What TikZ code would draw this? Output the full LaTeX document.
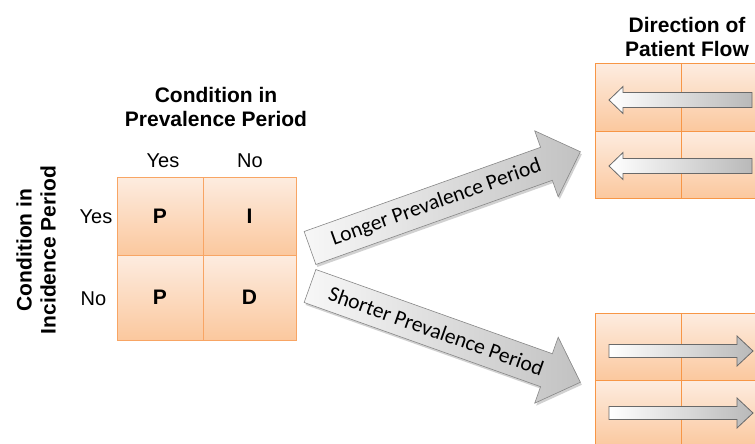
\documentclass[tikz,border=0pt]{standalone}
\usepackage{fontspec}
\setmainfont{Liberation Sans}
\newfontfamily\calfont{Carlito}
\usetikzlibrary{calc}
\definecolor{celltop}{RGB}{253,236,224}
\definecolor{cellbot}{RGB}{251,200,158}
\definecolor{cellline}{RGB}{248,165,100}
\definecolor{flowline}{RGB}{247,150,70}
\definecolor{arrowline}{RGB}{105,105,105}
\newcommand{\hdrfont}{\bfseries\fontsize{21}{24}\selectfont}
\newcommand{\ansfont}{\fontsize{20}{24}\selectfont}

\tikzset{
    cell/.style={draw=cellline, line width=1pt, top color=celltop, bottom color=cellbot,
        inner sep=0pt, outer sep=0pt, font=\hdrfont},
    flowcell/.style={cell, draw=flowline, minimum width=86pt, minimum height=67pt},
    hdr/.style={align=center, inner sep=0pt, font=\hdrfont},
    ans/.style={anchor=base, inner sep=0pt, font=\ansfont},
    bigarrow/.style={draw=arrowline!80, line width=0.6pt, left color=gray!6, right color=gray!48,
        preaction={fill=black, opacity=0.18, transform canvas={xshift=1.5pt, yshift=-2.5pt}}},
    smallarrow/.style={draw=arrowline, line width=0.8pt, left color=white, right color=gray!55}
}

\begin{document}
\begin{tikzpicture}[x=1pt, y=-1pt]
    \useasboundingbox (0,0) rectangle (755,444);

    % Headers
    \node[hdr] (colhead) at (216,106.5) {Condition in\\Prevalence Period};
    \node[hdr, rotate=90] (rowhead) at (36,250) {Condition in\\Incidence Period};
    \node[hdr] (flowhead) at (687,36.5) {Direction of\\Patient Flow};

    % Condition matrix
    \node[cell, minimum width=86pt, minimum height=78pt] (pyes) at (160,216) {P};
    \node[cell, minimum width=93pt, minimum height=78pt] (iyes) at (249.5,216) {I};
    \node[cell, minimum width=86pt, minimum height=85pt] (pno) at (160,297.5) {P};
    \node[cell, minimum width=93pt, minimum height=85pt] (dno) at (249.5,297.5) {D};

    \node[ans] (colyes) at (163,167) {Yes};
    \node[ans] (colno) at (250,167) {No};
    \node[ans] (rowyes) at (96,223) {Yes};
    \node[ans] (rowno) at (93.5,305) {No};

    % Flow grids
    \node[flowcell] (longa) at (638,97.5) {};
    \node[flowcell] (longb) at (724,97.5) {};
    \node[flowcell] (longc) at (638,164.5) {};
    \node[flowcell] (longd) at (724,164.5) {};
    \node[flowcell] (shorta) at (638,346.5) {};
    \node[flowcell] (shortb) at (724,346.5) {};
    \node[flowcell] (shortc) at (638,413.5) {};
    \node[flowcell] (shortd) at (724,413.5) {};

    % Direction arrows
    \foreach \y in {100,166} {
        \draw[smallarrow] (752,\y-7.5) -- (623,\y-7.5) -- (623,\y-13.5) -- (609,\y)
            -- (623,\y+13.5) -- (623,\y+7.5) -- (752,\y+7.5) -- cycle;
    }
    \foreach \y in {351,413} {
        \draw[smallarrow] (609,\y-6.5) -- (737,\y-6.5) -- (737,\y-15) -- (753,\y)
            -- (737,\y+15) -- (737,\y+6.5) -- (609,\y+6.5) -- cycle;
    }

    % Prevalence arrows
    \begin{scope}[shift={(310,248)}, rotate=19.6]
        \draw[bigarrow] (0,-17.5) -- (251,-17.5) -- (251,-35) -- (287,0)
            -- (251,35) -- (251,17.5) -- (0,17.5) -- cycle;
        \node[transform shape, font=\calfont\fontsize{21.5}{24}\selectfont] (longer) at (134,0) {Longer Prevalence Period};
    \end{scope}
    \begin{scope}[shift={(310,286)}, rotate=-19.6]
        \draw[bigarrow] (0,-17.5) -- (251,-17.5) -- (251,-35) -- (287,0)
            -- (251,35) -- (251,17.5) -- (0,17.5) -- cycle;
        \node[transform shape, font=\calfont\fontsize{21.5}{24}\selectfont] (shorter) at (134,0) {Shorter Prevalence Period};
    \end{scope}
\end{tikzpicture}
\end{document}
